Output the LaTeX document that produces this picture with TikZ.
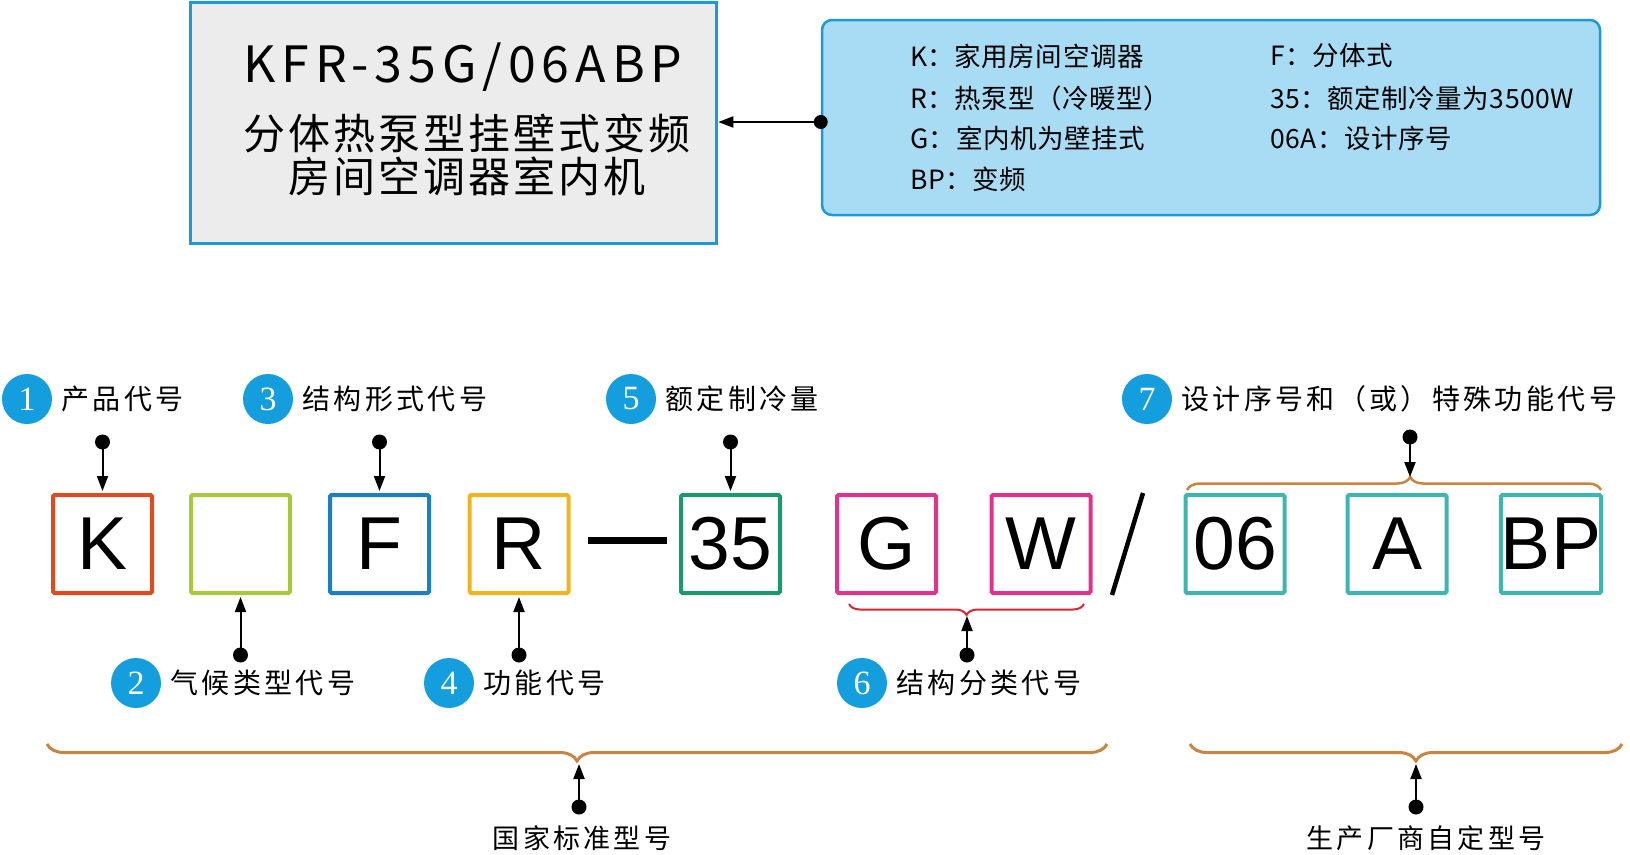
\documentclass[tikz,border=0pt]{standalone}
\usepackage{fontspec}
\setmainfont{Noto Sans CJK SC}
\newfontfamily\cjkfont[LetterSpace=2]{Noto Sans CJK SC}
\newfontfamily\cjkwide[LetterSpace=12]{Noto Sans CJK SC}
\newfontfamily\cjktitle[LetterSpace=7]{Noto Sans CJK SC}
\newfontfamily\codefont[LetterSpace=12]{Noto Sans CJK SC}
\newfontfamily\boxfont{Liberation Sans}
\newfontfamily\numfont{Liberation Serif}
\usetikzlibrary{arrows.meta, positioning, decorations.pathreplacing, calc}
\definecolor{framecyan}{RGB}{26,154,216}
\definecolor{panelgray}{RGB}{236,236,236}
\definecolor{panelblue}{RGB}{168,220,244}
\definecolor{badgeblue}{RGB}{20,158,222}
\definecolor{codered}{RGB}{224,74,31}
\definecolor{codelime}{RGB}{167,201,60}
\definecolor{codeblue}{RGB}{27,127,196}
\definecolor{codeamber}{RGB}{242,180,28}
\definecolor{codegreen}{RGB}{26,154,108}
\definecolor{codepink}{RGB}{224,51,140}
\definecolor{codeteal}{RGB}{63,181,176}
\definecolor{bracebrown}{RGB}{201,132,66}
\definecolor{bracered}{RGB}{216,38,46}

\begin{document}
\begin{tikzpicture}[
    x=1pt, y=-1pt,
    codebox/.style={rectangle, draw=#1, line width=4pt, rounded corners=1.5pt, fill=white,
        minimum width=99pt, minimum height=98pt, inner sep=0pt, font=\boxfont\fontsize{75}{75}\selectfont},
    badge/.style={circle, fill=badgeblue, minimum size=50pt, inner sep=0pt, text=white,
        font=\numfont\fontsize{34}{34}\selectfont},
    tag/.style={anchor=west, inner sep=0pt, font=\cjkwide\fontsize{28}{28}\selectfont},
    dot/.style={circle, fill=black, minimum size=15pt, inner sep=0pt},
    arrow/.style={-{Triangle[length=15pt, width=11pt]}, line width=2pt},
    brace/.style={decorate, draw=#1, decoration={brace, amplitude=16pt}},
    infotext/.style={anchor=west, inner sep=0pt, font=\cjkfont\fontsize{26.5}{26.5}\selectfont}
]
\useasboundingbox (0,0) rectangle (1630,854);

% model name and legend
\node[draw=framecyan, line width=3.5pt, fill=panelgray, minimum width=526pt, minimum height=241pt, inner sep=0pt] (model) at (453.5,123) {};
\node[anchor=base, inner sep=0pt, font=\codefont\fontsize{50}{50}\selectfont] (modelcode) at (463,82) {KFR-35G/06ABP};
\node[anchor=base, inner sep=0pt, font=\cjktitle\fontsize{42}{42}\selectfont] (modelline1) at (467,149) {分体热泵型挂壁式变频};
\node[anchor=base, inner sep=0pt, font=\cjktitle\fontsize{42}{42}\selectfont] (modelline2) at (467,192) {房间空调器室内机};

\node[draw=framecyan, line width=2.5pt, fill=panelblue, rounded corners=10pt, minimum width=778pt, minimum height=195pt, inner sep=0pt] (legend) at (1211,117.5) {};
\foreach \y/\name/\txt in {56/k/K：家用房间空调器, 98/r/R：热泵型（冷暖型）, 138/g/G：室内机为壁挂式, 179/bp/BP：变频} {
    \node[infotext] (info\name) at (910,\y) {\txt};
}
\foreach \y/\name/\txt in {56/f/F：分体式, 98/cap/35：额定制冷量为3500W, 138/ser/06A：设计序号} {
    \node[infotext] (info\name) at (1270,\y) {\txt};
}
\node[dot, minimum size=14pt] (legdot) at (legend.west |- 0,122) {};
\draw[arrow] (legdot.center) -- (legdot.center -| model.east);

% code boxes
\foreach \name/\txt/\cx/\col in {K/K/102.5/codered, blank//240.5/codelime, F/F/379.5/codeblue,
    R/R/519/codeamber, n35/35/730.5/codegreen, G/G/886.5/codepink, W/W/1041/codepink,
    n06/06/1235/codeteal, A/A/1397/codeteal, BP/BP/1551/codeteal} {
    \node[codebox=\col] (\name) at (\cx,544) {\txt};
}
\node[fill=black, minimum width=79pt, minimum height=7pt, inner sep=0pt] (dash) at (627.5,540) {};
\draw[line width=4.5pt] (1143,493) -- (1112,595);

% numbered tags
\foreach \n/\bx/\by/\txt in {1/27/399/产品代号, 3/268/399/结构形式代号, 5/631/399/额定制冷量,
    7/1147/399/设计序号和（或）特殊功能代号, 2/136/683/气候类型代号, 4/449/683/功能代号, 6/862/683/结构分类代号} {
    \node[badge] (badge\n) at (\bx,\by) {\n};
    \node[tag, right=9pt of badge\n] (tag\n) {\txt};
}

\node[dot] (dot1) at (K.north |- 0,442) {};
\node[dot] (dot3) at (F.north |- 0,442) {};
\node[dot] (dot5) at (n35.north |- 0,442) {};
\node[dot] (dot2) at (blank.south |- 0,655) {};
\node[dot] (dot4) at (R.south |- 0,655) {};
\draw[arrow, shorten >=2pt] (dot1.center) -- (K.north);
\draw[arrow, shorten >=2pt] (dot3.center) -- (F.north);
\draw[arrow, shorten >=2pt] (dot5.center) -- (n35.north);
\draw[arrow, shorten >=2pt] (dot2.center) -- (blank.south);
\draw[arrow, shorten >=2pt] (dot4.center) -- (R.south);

% braces
\coordinate (b6L) at (849,604);
\coordinate (b6R) at (1084,604);
\coordinate (b6tip) at (967,616);
\draw[brace=bracered, line width=2pt, decoration={amplitude=11pt}] (b6R) -- (b6L);
\node[dot] (dot6) at (967,655) {};
\draw[arrow] (dot6.center) -- (b6tip);

\coordinate (b7L) at (1187,490);
\coordinate (b7R) at (1601,490);
\coordinate (b7tip) at (1410,477);
\draw[brace=bracebrown, line width=2.5pt, decoration={amplitude=13pt, aspect=0.539}] (b7L) -- (b7R);
\node[dot] (dot7) at (1410,437) {};
\draw[arrow] (dot7.center) -- (b7tip);

\coordinate (stdL) at (47,744);
\coordinate (stdR) at (1107,744);
\coordinate (stdtip) at (579,764);
\draw[brace=bracebrown, line width=3pt, decoration={amplitude=17pt}] (stdR) -- (stdL);
\node[tag, anchor=center, font=\cjkwide\fontsize{27}{27}\selectfont] (stdlabel) at (582,838) {国家标准型号};
\node[dot] (stddot) at (579,807) {};
\draw[arrow] (stddot.center) -- (stdtip);

\coordinate (ownL) at (1190,744);
\coordinate (ownR) at (1622,744);
\coordinate (owntip) at (1416,764);
\draw[brace=bracebrown, line width=3pt, decoration={amplitude=17pt, aspect=0.477}] (ownR) -- (ownL);
\node[tag, anchor=center, font=\cjkwide\fontsize{27}{27}\selectfont] (ownlabel) at (1426,838) {生产厂商自定型号};
\node[dot] (owndot) at (1416,807) {};
\draw[arrow] (owndot.center) -- (owntip);
\end{tikzpicture}
\end{document}
